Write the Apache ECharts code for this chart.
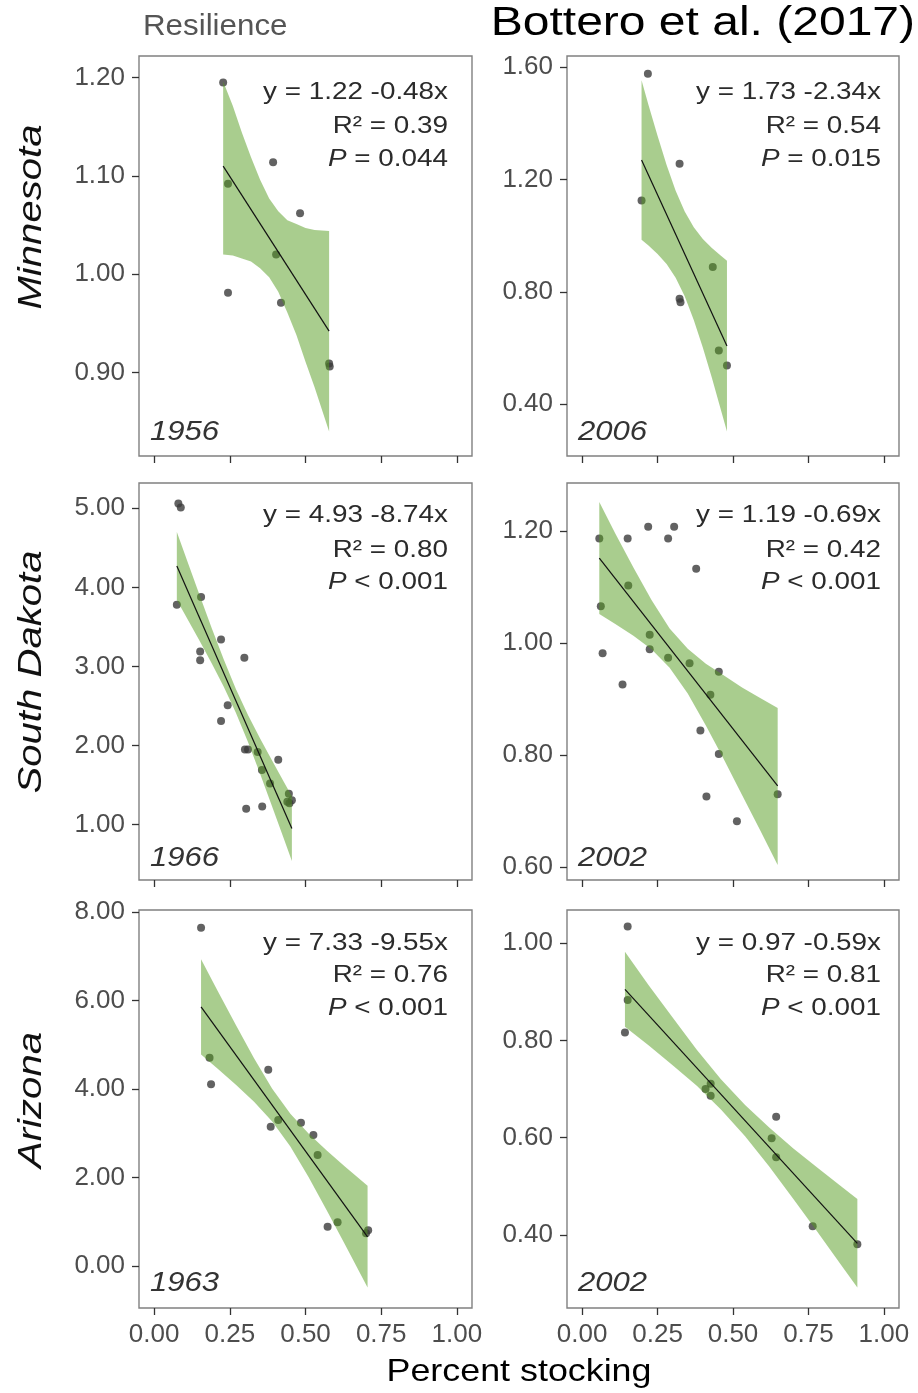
<!DOCTYPE html>
<html>
<head>
<meta charset="utf-8">
<script src="https://cdn.jsdelivr.net/npm/echarts@6/dist/echarts.min.js"></script>
<style>
html,body{margin:0;padding:0;background:#fff;}
#chart{width:918px;height:1393px;}
</style>
</head>
<body>
<div id="chart"></div>
<script>
// ---------- DATA ----------
// x tick labels (Percent stocking)
const xTicks = [0, 0.25, 0.5, 0.75, 1.0];

// Minnesota 1956
const mn56X = [0.228, 0.393, 0.244, 0.482, 0.403, 0.244, 0.419, 0.578, 0.580];
const mn56Y = [1.195, 1.114, 1.092, 1.062, 1.020, 0.981, 0.971, 0.909, 0.906];
const mn56FitX = [0.228, 0.578];
const mn56FitY = [1.110, 0.942];
const mn56BandX = [0.228, 0.26, 0.29, 0.32, 0.35, 0.38, 0.41, 0.44, 0.47, 0.50, 0.53, 0.578];
const mn56Low = [1.020, 1.019, 1.016, 1.013, 1.006, 0.997, 0.982, 0.961, 0.938, 0.911, 0.885, 0.840];
const mn56High = [1.196, 1.171, 1.144, 1.119, 1.096, 1.077, 1.064, 1.055, 1.051, 1.047, 1.045, 1.044];
const mn56Ticks = [0.9, 1.0, 1.1, 1.2];

// Minnesota 2006
const mn06X = [0.218, 0.323, 0.197, 0.433, 0.323, 0.326, 0.453, 0.480];
const mn06Y = [1.576, 1.256, 1.125, 0.888, 0.775, 0.763, 0.591, 0.538];
const mn06FitX = [0.197, 0.480];
const mn06FitY = [1.269, 0.607];
const mn06BandX = [0.197, 0.22, 0.25, 0.28, 0.31, 0.34, 0.37, 0.40, 0.43, 0.46, 0.48];
const mn06Low = [0.985, 0.965, 0.935, 0.899, 0.850, 0.784, 0.700, 0.602, 0.494, 0.380, 0.303];
const mn06High = [1.553, 1.465, 1.355, 1.251, 1.160, 1.086, 1.030, 0.988, 0.956, 0.928, 0.911];
const mn06Ticks = [0.4, 0.8, 1.2, 1.6];

// South Dakota 1966
const sd66X = [0.080, 0.088, 0.075, 0.155, 0.152, 0.152, 0.221, 0.298, 0.243, 0.221, 0.300, 0.310, 0.342, 0.356, 0.410, 0.383, 0.304, 0.357, 0.445, 0.455, 0.447, 0.440];
const sd66Y = [5.06, 5.01, 3.78, 3.88, 3.19, 3.08, 3.34, 3.11, 2.51, 2.31, 1.95, 1.95, 1.92, 1.69, 1.82, 1.52, 1.20, 1.23, 1.39, 1.31, 1.27, 1.29];
const sd66FitX = [0.075, 0.455];
const sd66FitY = [4.27, 0.95];
const sd66BandX = [0.075, 0.11, 0.15, 0.19, 0.23, 0.27, 0.31, 0.35, 0.39, 0.43, 0.455];
const sd66Low = [3.840, 3.601, 3.325, 3.042, 2.745, 2.416, 2.045, 1.644, 1.227, 0.805, 0.539];
const sd66High = [4.700, 4.327, 3.905, 3.488, 3.087, 2.716, 2.387, 2.090, 1.807, 1.531, 1.359];
const sd66Ticks = [1, 2, 3, 4, 5];

// South Dakota 2002
const sd02X = [0.057, 0.151, 0.219, 0.285, 0.305, 0.378, 0.153, 0.062, 0.068, 0.224, 0.224, 0.285, 0.356, 0.134, 0.453, 0.425, 0.392, 0.453, 0.412, 0.513, 0.648];
const sd02Y = [1.187, 1.187, 1.208, 1.187, 1.208, 1.133, 1.103, 1.066, 0.982, 1.015, 0.989, 0.974, 0.964, 0.926, 0.949, 0.908, 0.844, 0.802, 0.726, 0.682, 0.730];
const sd02FitX = [0.057, 0.648];
const sd02FitY = [1.152, 0.745];
const sd02BandX = [0.057, 0.11, 0.17, 0.23, 0.29, 0.35, 0.41, 0.47, 0.53, 0.59, 0.648];
const sd02Low = [1.052, 1.034, 1.013, 0.989, 0.956, 0.910, 0.853, 0.792, 0.729, 0.666, 0.604];
const sd02High = [1.252, 1.196, 1.135, 1.077, 1.026, 0.990, 0.963, 0.942, 0.921, 0.902, 0.884];
const sd02Ticks = [0.6, 0.8, 1.0, 1.2];

// Arizona 1963
const az63X = [0.155, 0.183, 0.188, 0.377, 0.385, 0.410, 0.485, 0.526, 0.540, 0.573, 0.606, 0.707, 0.700];
const az63Y = [7.65, 4.71, 4.11, 4.44, 3.15, 3.30, 3.24, 2.96, 2.51, 0.89, 0.99, 0.81, 0.74];
const az63FitX = [0.155, 0.705];
const az63FitY = [5.86, 0.66];
const az63BandX = [0.155, 0.21, 0.27, 0.33, 0.39, 0.45, 0.51, 0.57, 0.63, 0.705];
const az63Low = [4.782, 4.460, 4.098, 3.714, 3.270, 2.703, 2.013, 1.263, 0.491, -0.489];
const az63High = [6.938, 6.220, 5.448, 4.698, 4.008, 3.441, 2.997, 2.613, 2.251, 1.813];
const az63Ticks = [0, 2, 4, 6, 8];

// Arizona 2002
const az02X = [0.151, 0.151, 0.142, 0.409, 0.426, 0.426, 0.643, 0.628, 0.643, 0.764, 0.912];
const az02Y = [1.034, 0.883, 0.816, 0.700, 0.711, 0.686, 0.643, 0.599, 0.560, 0.418, 0.381];
const az02FitX = [0.142, 0.912];
const az02FitY = [0.905, 0.383];
const az02BandX = [0.142, 0.22, 0.30, 0.38, 0.46, 0.54, 0.62, 0.70, 0.78, 0.86, 0.912];
const az02Low = [0.828, 0.790, 0.749, 0.707, 0.658, 0.603, 0.541, 0.474, 0.406, 0.337, 0.292];
const az02High = [0.982, 0.914, 0.847, 0.781, 0.720, 0.667, 0.621, 0.578, 0.538, 0.499, 0.474];
const az02Ticks = [0.4, 0.6, 0.8, 1.0];

// Texts
const eqLabels = ['y = 1.22 -0.48x', 'y = 1.73 -2.34x', 'y = 4.93 -8.74x', 'y = 1.19 -0.69x', 'y = 7.33 -9.55x', 'y = 0.97 -0.59x'];
const r2Labels = ['R\u00B2 = 0.39', 'R\u00B2 = 0.54', 'R\u00B2 = 0.80', 'R\u00B2 = 0.42', 'R\u00B2 = 0.76', 'R\u00B2 = 0.81'];
const pLabels = ['= 0.044', '= 0.015', '< 0.001', '< 0.001', '< 0.001', '< 0.001'];
const yearLabels = ['1956', '2006', '1966', '2002', '1963', '2002'];
const rowLabels = ['Minnesota', 'South Dakota', 'Arizona'];
const yRanges = [[0.815, 1.222], [0.216, 1.639], [0.30, 5.32], [0.577, 1.286], [-0.95, 8.05], [0.25, 1.068]];

// ---------- LAYOUT ----------
const FONT = '"Liberation Sans", Arial, Helvetica, sans-serif';
const colLeft = [139, 567];
const colWidth = [333, 332];
const rowTop = [56, 483, 910];
const rowHeight = [400, 397, 398];
const annY = [[92, 126, 159], [515, 550, 582], [943, 975, 1008]];
const annRight = [448, 881];
const yearY = [432, 858, 1283];
const rowLabelY = [217, 672, 1100];

const panelData = [
  {x: mn56X, y: mn56Y, fx: mn56FitX, fy: mn56FitY, bx: mn56BandX, lo: mn56Low, hi: mn56High, ticks: mn56Ticks},
  {x: mn06X, y: mn06Y, fx: mn06FitX, fy: mn06FitY, bx: mn06BandX, lo: mn06Low, hi: mn06High, ticks: mn06Ticks},
  {x: sd66X, y: sd66Y, fx: sd66FitX, fy: sd66FitY, bx: sd66BandX, lo: sd66Low, hi: sd66High, ticks: sd66Ticks},
  {x: sd02X, y: sd02Y, fx: sd02FitX, fy: sd02FitY, bx: sd02BandX, lo: sd02Low, hi: sd02High, ticks: sd02Ticks},
  {x: az63X, y: az63Y, fx: az63FitX, fy: az63FitY, bx: az63BandX, lo: az63Low, hi: az63High, ticks: az63Ticks},
  {x: az02X, y: az02Y, fx: az02FitX, fy: az02FitY, bx: az02BandX, lo: az02Low, hi: az02High, ticks: az02Ticks}
];

const grids = [], xAxes = [], yAxes = [], series = [], graphics = [];

panelData.forEach((p, i) => {
  const row = Math.floor(i / 2), col = i % 2;
  grids.push({
    left: colLeft[col], top: rowTop[row], width: colWidth[col], height: rowHeight[row],
    show: true, borderColor: '#808080', borderWidth: 1.4, backgroundColor: '#fff'
  });
  xAxes.push({
    type: 'value', gridIndex: i, min: -0.05, max: 1.05, position: 'bottom',
    axisLine: {show: false, onZero: false},
    splitLine: {show: false},
    axisTick: {show: true, inside: false, length: 7, lineStyle: {color: '#333', width: 1.3}, customValues: xTicks},
    axisLabel: {show: row === 2, customValues: xTicks, margin: 14, color: '#4d4d4d',
      fontSize: 26, fontFamily: FONT, formatter: v => v.toFixed(2)}
  });
  yAxes.push({
    type: 'value', gridIndex: i, min: yRanges[i][0], max: yRanges[i][1], position: 'left',
    axisLine: {show: false, onZero: false},
    splitLine: {show: false},
    axisTick: {show: true, inside: false, length: 7, lineStyle: {color: '#333', width: 1.3}, customValues: p.ticks},
    axisLabel: {show: true, customValues: p.ticks, margin: 14, color: '#4d4d4d',
      fontSize: 26, fontFamily: FONT, formatter: v => v.toFixed(2)}
  });
  series.push({
    type: 'scatter', xAxisIndex: i, yAxisIndex: i,
    data: p.x.map((v, k) => [v, p.y[k]]),
    symbolSize: 8, itemStyle: {color: '#3b3b3b'}, z: 2, silent: true
  });
  const bandPts = p.bx.map((v, k) => [v, p.hi[k]]).concat(p.bx.map((v, k) => [v, p.lo[k]]).reverse());
  series.push({
    type: 'custom', xAxisIndex: i, yAxisIndex: i, z: 3, silent: true,
    data: [[p.bx[0], p.lo[0]]],
    renderItem: function (params, api) {
      const pts = bandPts.map(d => api.coord(d));
      return {type: 'polygon', shape: {points: pts},
        style: {fill: 'rgba(83,155,29,0.5)', stroke: null}};
    }
  });
  series.push({
    type: 'line', xAxisIndex: i, yAxisIndex: i, z: 4, silent: true,
    data: p.fx.map((v, k) => [v, p.fy[k]]),
    showSymbol: false, lineStyle: {color: '#111', width: 1.2}
  });

  // annotations
  const ax = annRight[col];
  const base = {fontFamily: FONT, fontSize: 24, fill: '#2b2b2b', align: 'right', verticalAlign: 'middle'};
  graphics.push({type: 'text', x: ax, y: annY[row][0], scaleX: 1.16, style: Object.assign({text: eqLabels[i]}, base)});
  graphics.push({type: 'text', x: ax, y: annY[row][1], scaleX: 1.16, style: Object.assign({text: r2Labels[i]}, base)});
  graphics.push({type: 'text', x: ax, y: annY[row][2], scaleX: 1.16, style: Object.assign({
    text: '{i|P} ' + pLabels[i],
    rich: {i: {fontStyle: 'italic', fontFamily: FONT, fontSize: 24, fill: '#2b2b2b'}}
  }, base)});
  graphics.push({type: 'text', x: colLeft[col] + 11, y: yearY[row], scaleX: 1.15, style: {
    text: yearLabels[i], fontFamily: FONT, fontSize: 27, fontStyle: 'italic', fill: '#333',
    align: 'left', verticalAlign: 'middle'}});
});

// row labels
rowLabels.forEach((t, r) => {
  graphics.push({type: 'text', x: 32, y: rowLabelY[r], rotation: Math.PI / 2, scaleX: 1.18, style: {
    text: t, fontFamily: FONT, fontSize: 34, fontStyle: 'italic', fill: '#111',
    align: 'center', verticalAlign: 'middle'}});
});
// header texts
graphics.push({type: 'text', x: 143, y: 27, scaleX: 1.08, style: {
  text: 'Resilience', fontFamily: FONT, fontSize: 29, fill: '#555', align: 'left', verticalAlign: 'middle'}});
graphics.push({type: 'text', x: 915, y: 24, scaleX: 1.2, style: {
  text: 'Bottero et al. (2017)', fontFamily: FONT, fontSize: 40, fill: '#000', align: 'right', verticalAlign: 'middle'}});
graphics.push({type: 'text', x: 519, y: 1372, scaleX: 1.12, style: {
  text: 'Percent stocking', fontFamily: FONT, fontSize: 32, fill: '#000', align: 'center', verticalAlign: 'middle'}});

const chart = echarts.init(document.getElementById('chart'), null, {renderer: 'canvas'});
chart.setOption({
  backgroundColor: '#fff',
  animation: false,
  grid: grids,
  xAxis: xAxes,
  yAxis: yAxes,
  series: series,
  graphic: graphics
});
</script>
</body>
</html>
